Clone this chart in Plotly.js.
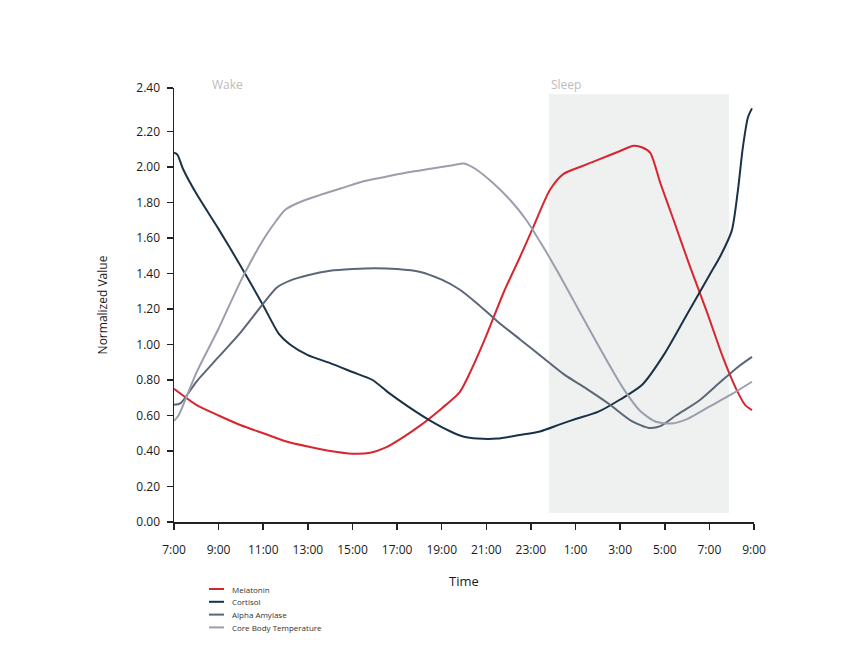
<!DOCTYPE html>
<html>
<head>
<meta charset="utf-8">
<script src="https://cdn.plot.ly/plotly-3.0.1.min.js"></script>
<style>html,body{margin:0;padding:0;background:#fff;}#chart{width:850px;height:657px;}</style>
</head>
<body>
<div id="chart"></div>
<script>
// Hours after 7:00 (0 = 7:00, 26 = 9:00 next day)
const tickHours = [0, 2, 4, 6, 8, 10, 12, 14, 16, 18, 20, 22, 24, 26];
const tickLabels = ["7:00", "9:00", "11:00", "13:00", "15:00", "17:00", "19:00", "21:00", "23:00", "1:00", "3:00", "5:00", "7:00", "9:00"];
const yTickVals = [0, 0.2, 0.4, 0.6, 0.8, 1.0, 1.2, 1.4, 1.6, 1.8, 2.0, 2.2, 2.445];
const yTickText = ["0.00", "0.20", "0.40", "0.60", "0.80", "1.00", "1.20", "1.40", "1.60", "1.80", "2.00", "2.20", "2.40"];

const seriesNames = ["Melatonin", "Cortisol", "Alpha Amylase", "Core Body Temperature"];
const seriesColors = ["#d8262f", "#1a3247", "#5b6678", "#9b9eac"];

const melatoninX = [0, 1, 2, 3, 4, 5, 6, 7, 8, 8.8, 9.5, 10.3, 11, 12, 12.8, 13.3, 14, 14.8, 15.5, 16.1, 16.85, 17.45, 18.2, 19, 20, 20.6, 21.0, 21.35, 21.8, 22.4, 23.1, 23.9, 24.6, 25.2, 25.6, 25.91];
const melatoninY = [0.75, 0.66, 0.60, 0.545, 0.50, 0.455, 0.425, 0.40, 0.385, 0.39, 0.42, 0.48, 0.54, 0.64, 0.73, 0.85, 1.05, 1.30, 1.49, 1.66, 1.87, 1.96, 2.00, 2.04, 2.09, 2.12, 2.11, 2.08, 1.91, 1.70, 1.45, 1.18, 0.93, 0.75, 0.66, 0.63];

const cortisolX = [0, 0.15, 0.4, 1, 2, 3, 4, 4.7, 5.2, 6, 7, 8, 8.9, 9.6, 10.5, 11.5, 12.4, 13, 13.6, 14.5, 15.5, 16.4, 17.3, 18, 19, 20, 21, 22, 23, 24, 24.5, 25, 25.28, 25.5, 25.73, 25.91];
const cortisolY = [2.08, 2.07, 1.99, 1.85, 1.65, 1.44, 1.22, 1.06, 1.00, 0.94, 0.895, 0.845, 0.80, 0.73, 0.65, 0.57, 0.51, 0.48, 0.47, 0.47, 0.49, 0.51, 0.55, 0.58, 0.62, 0.69, 0.775, 0.95, 1.17, 1.39, 1.50, 1.64, 1.87, 2.11, 2.28, 2.33];

const amylaseX = [0, 0.3, 1, 2, 3, 4, 4.6, 5.2, 6, 7, 8, 9, 10, 11, 12, 12.8, 13.6, 14.5, 15.5, 16.5, 17.5, 18.5, 19.5, 20.5, 21.3, 21.8, 22.5, 23.5, 24.5, 25.3, 25.91];
const amylaseY = [0.66, 0.67, 0.79, 0.93, 1.07, 1.23, 1.32, 1.36, 1.39, 1.415, 1.425, 1.43, 1.425, 1.41, 1.365, 1.31, 1.23, 1.13, 1.03, 0.93, 0.83, 0.75, 0.665, 0.57, 0.53, 0.54, 0.60, 0.68, 0.79, 0.875, 0.93];

const tempX = [0, 0.2, 1, 2, 3, 4, 4.6, 5.0, 5.6, 6.5, 7.5, 8.5, 9.5, 10.5, 11.5, 12.5, 13.0, 13.5, 14.3, 15.1, 15.8, 16.5, 17.2, 17.9, 18.6, 19.4, 20.1, 20.9, 21.6, 22.3, 23.0, 24.0, 25.0, 25.91];
const tempY = [0.57, 0.60, 0.84, 1.09, 1.36, 1.59, 1.70, 1.76, 1.80, 1.84, 1.88, 1.92, 1.945, 1.97, 1.99, 2.01, 2.02, 1.99, 1.91, 1.81, 1.70, 1.56, 1.41, 1.25, 1.09, 0.91, 0.76, 0.625, 0.565, 0.555, 0.58, 0.65, 0.72, 0.79];

const seriesX = [melatoninX, cortisolX, amylaseX, tempX];
const seriesY = [melatoninY, cortisolY, amylaseY, tempY];

const sleepStart = 16.81, sleepEnd = 24.88, sleepBottom = 0.05, sleepTop = 2.41;

const FONT = "Open Sans, Lato, sans-serif";
const W = 850, H = 657, M = {l: 174, r: 96, t: 88, b: 135};
const plotW = W - M.l - M.r, plotH = H - M.t - M.b;
const px2paperX = px => (px - M.l) / plotW;
const px2paperY = py => (H - M.b - py) / plotH;

const data = seriesNames.map((name, i) => ({
  type: "scatter", mode: "lines", name: name, x: seriesX[i], y: seriesY[i],
  line: {color: seriesColors[i], width: 2, shape: "spline", smoothing: 0.7},
  hoverinfo: "skip", showlegend: false
}));

// Compact legend (entries 13px apart), built from the series names/colours
const legendShapes = [], legendAnnots = [];
seriesNames.forEach((name, i) => {
  const yy = px2paperY(589 + 12.8 * i);
  legendShapes.push({type: "line", xref: "paper", yref: "paper",
    x0: px2paperX(209), x1: px2paperX(224), y0: yy, y1: yy,
    line: {color: seriesColors[i], width: 2}});
  legendAnnots.push({text: name, xref: "paper", yref: "paper", x: px2paperX(230), y: yy,
    xanchor: "left", yanchor: "middle", showarrow: false,
    font: {family: FONT, size: 8, color: "#333"}});
});

const layout = {
  width: W, height: H,
  margin: {l: M.l, r: M.r, t: M.t, b: M.b, autoexpand: false},
  paper_bgcolor: "#fff", plot_bgcolor: "#fff",
  font: {family: FONT, color: "#222", size: 12},
  showlegend: false,
  xaxis: {
    range: [0, 26], tickvals: tickHours, ticktext: tickLabels,
    showgrid: false, zeroline: false, showline: true,
    linecolor: "#222", linewidth: 1.5,
    ticks: "outside", ticklen: 6, tickwidth: 1.5, tickcolor: "#222",
    ticklabelstandoff: 10,
    tickfont: {family: FONT, size: 12, color: "#1a1a1a"},
    title: {text: "Time", font: {family: FONT, size: 13, color: "#1a1a1a"}, standoff: 20},
    automargin: false, fixedrange: true
  },
  yaxis: {
    range: [0, 2.445], tickvals: yTickVals, ticktext: yTickText,
    showgrid: false, zeroline: false, showline: true,
    linecolor: "#222", linewidth: 1.5,
    ticks: "outside", ticklen: 6, tickwidth: 1.5, tickcolor: "#222",
    ticklabelstandoff: 4,
    tickfont: {family: FONT, size: 12, color: "#1a1a1a"},
    title: {text: "Normalized Value", font: {family: FONT, size: 12, color: "#1a1a1a"}, standoff: 26},
    automargin: false, fixedrange: true
  },
  shapes: [{
    type: "rect", layer: "below", xref: "x", yref: "y",
    x0: sleepStart, x1: sleepEnd, y0: sleepBottom, y1: sleepTop,
    fillcolor: "#eff0f0", line: {width: 0}
  }].concat(legendShapes),
  annotations: [
    {text: "Wake", xref: "x", yref: "paper", x: 1.6, y: px2paperY(85), xanchor: "left", yanchor: "middle",
     showarrow: false, font: {family: FONT, size: 12, color: "#bcbcbc"}},
    {text: "Sleep", xref: "x", yref: "paper", x: sleepStart, y: px2paperY(85), xanchor: "left", yanchor: "middle",
     showarrow: false, font: {family: FONT, size: 12, color: "#bcbcbc"}}
  ].concat(legendAnnots)
};

Plotly.newPlot("chart", data, layout, {displayModeBar: false, staticPlot: true});
</script>
</body>
</html>
